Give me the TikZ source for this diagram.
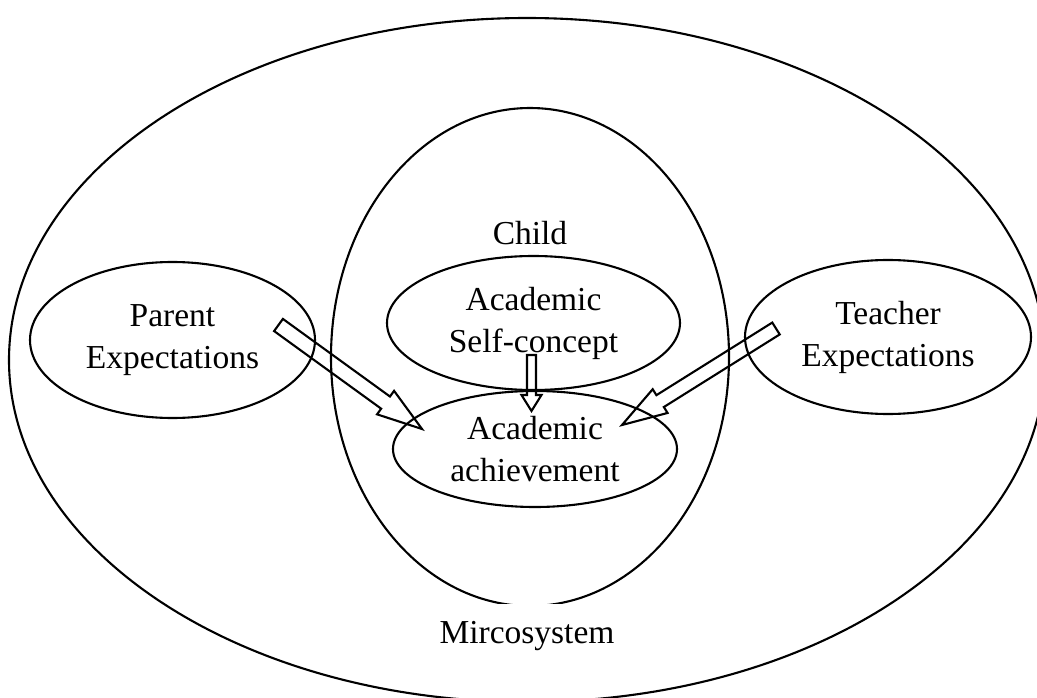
\documentclass[tikz,border=0pt]{standalone}
\usepackage{fontspec}
\setmainfont{Liberation Serif}
\usetikzlibrary{shapes.geometric,calc}
\newcommand\BlkArrow[5]{%
  \coordinate (blkB) at ($(#2)!#5!(#1)$);
  \draw[blkarrow] ($(#1)!#3!90:(#2)$) -- ($(blkB)!#3!90:(#2)$) -- ($(blkB)!#4!90:(#2)$) -- (#2)
    -- ($(blkB)!#4!-90:(#2)$) -- ($(blkB)!#3!-90:(#2)$) -- ($(#1)!#3!-90:(#2)$) -- cycle;}
\begin{document}
\begin{tikzpicture}[x=1pt,y=-1pt,
  every node/.style={font=\fontsize{33.5}{42}\selectfont},
  oval/.style={draw, ellipse, line width=2.1pt, inner sep=0pt, align=center},
  blkarrow/.style={draw, line width=2.1pt, line join=miter}]
\useasboundingbox (0,0) rectangle (1037,698);
\clip (0,0) rectangle (1037,698);
\node[oval, minimum width=1036pt, minimum height=684pt] (micro) at (527,360) {};
\node[oval, minimum width=398pt, minimum height=498pt] (child) at (530,357) {};
\node[oval, minimum width=285pt, minimum height=156pt] (parent) at (172.5,340) {Parent\\Expectations};
\node[oval, minimum width=286pt, minimum height=154pt] (teacher) at (888,337) {Teacher\\Expectations};
\node[oval, minimum width=293pt, minimum height=134pt] (self) at (533.5,323) {Academic\\Self-concept};
\node[oval, minimum width=284pt, minimum height=116pt] (ach) at (535,449) {Academic\\achievement};
\node (childlbl) at (530,233) {Child};
\node[anchor=base, fill=white, text height=33pt, inner sep=6pt] (microlbl) at (527,643) {Mircosystem};
\coordinate (pt) at (278.5,325); \coordinate (ph) at (422,429);
\BlkArrow{pt}{ph}{7.5pt}{14.5pt}{45pt}
\coordinate (tt) at (776,328.5); \coordinate (th) at (622,425);
\BlkArrow{tt}{th}{7pt}{14pt}{45pt}
\coordinate (st) at (531.5,355); \coordinate (sh) at (531.5,411);
\BlkArrow{st}{sh}{4.5pt}{10pt}{16pt}
\end{tikzpicture}
\end{document}
